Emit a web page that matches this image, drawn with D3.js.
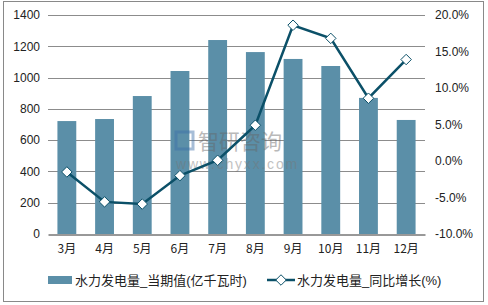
<!DOCTYPE html>
<html>
<head>
<meta charset="utf-8">
<script src="https://cdn.jsdelivr.net/npm/d3@7"></script>
<style>
  body { margin: 0; background: #fff; }
  svg text { font-family: "Liberation Sans", Arial, "Noto Sans CJK SC", sans-serif; }
</style>
</head>
<body>
<div id="chart"></div>
<script>
var months = ["3月", "4月", "5月", "6月", "7月", "8月", "9月", "10月", "11月", "12月"];
var output = [722, 735, 882, 1042, 1240, 1163, 1119, 1074, 870, 729];
var growth = [-1.5, -5.6, -5.9, -2.0, 0.1, 4.9, 18.6, 16.8, 8.6, 13.9];
var leftTicks = [0, 200, 400, 600, 800, 1000, 1200, 1400];
var rightTicks = [-10, -5, 0, 5, 10, 15, 20];
var barName = "水力发电量_当期值(亿千瓦时)";
var lineName = "水力发电量_同比增长(%)";

var width = 488, height = 305;
var margin = { left: 48, right: 63, top: 15, bottom: 71 };
var barColor = "#5b8fa8", lineColor = "#0b5068";

var svg = d3.select("#chart").append("svg")
  .attr("width", width)
  .attr("height", height);

// outer frame
svg.append("rect")
  .attr("x", 3.5).attr("y", 1.5)
  .attr("width", 480).attr("height", 300)
  .attr("fill", "none").attr("stroke", "#898989");

var x = d3.scaleBand()
  .domain(months)
  .range([margin.left, width - margin.right])
  .paddingInner(0.5).paddingOuter(0.25);

var y = d3.scaleLinear().domain([0, 1400]).range([height - margin.bottom, margin.top]);
var y2 = d3.scaleLinear().domain([-10, 20]).range([height - margin.bottom, margin.top]);

// grid
svg.append("g").selectAll("line")
  .data(leftTicks.slice(1))
  .enter().append("line")
  .attr("x1", margin.left).attr("x2", width - margin.right)
  .attr("y1", function (d) { return Math.round(y(d)) + 0.5; })
  .attr("y2", function (d) { return Math.round(y(d)) + 0.5; })
  .attr("stroke", "#8c8c8c");

// left axis
var yAxis = svg.append("g")
  .attr("transform", "translate(" + margin.left + ",0)")
  .call(d3.axisLeft(y).tickValues(leftTicks).tickSize(0).tickPadding(8).tickFormat(d3.format("d")));
yAxis.select(".domain").remove();
yAxis.selectAll("text").attr("font-size", 12).attr("fill", "#222");

// right axis
var yAxis2 = svg.append("g")
  .attr("transform", "translate(" + (width - margin.right) + ",0)")
  .call(d3.axisRight(y2).tickValues(rightTicks).tickSize(0).tickPadding(10)
    .tickFormat(function (d) { return d.toFixed(1) + "%"; }));
yAxis2.select(".domain").remove();
yAxis2.selectAll("text").attr("font-size", 12).attr("fill", "#222");

// bars
svg.append("g").selectAll("rect")
  .data(output)
  .enter().append("rect")
  .attr("x", function (d, i) { return x(months[i]); })
  .attr("y", function (d) { return y(d); })
  .attr("width", x.bandwidth())
  .attr("height", function (d) { return y(0) - y(d); })
  .attr("fill", barColor);

// bottom axis
var xAxis = svg.append("g")
  .attr("transform", "translate(0," + (Math.round(y(0)) + 0.5) + ")")
  .call(d3.axisBottom(x).tickSize(0).tickPadding(10));
xAxis.select(".domain").attr("stroke", "#333");
xAxis.selectAll("text").attr("font-size", 12).attr("fill", "#222")
  .style("font-family", "\"Noto Sans CJK SC\", sans-serif");

// watermark
var wm = svg.append("g").attr("opacity", 0.45);
wm.append("rect").attr("x", 176).attr("y", 132).attr("width", 17).attr("height", 17)
  .attr("fill", "none").attr("stroke", "#3c6ea8").attr("stroke-width", 3);
wm.append("text").attr("x", 198).attr("y", 149).text("智研咨询")
  .attr("font-size", 21).attr("fill", "#666")
  .style("font-family", "\"Noto Sans CJK SC\", sans-serif");
wm.append("text").attr("x", 176).attr("y", 169).text("www.chyxx.com")
  .attr("font-size", 14).attr("fill", "#777").attr("letter-spacing", 1.8);

// line
var cx = function (d, i) { return x(months[i]) + x.bandwidth() / 2; };
var line = d3.line()
  .x(cx)
  .y(function (d) { return y2(d); });
svg.append("path")
  .datum(growth)
  .attr("d", line)
  .attr("fill", "none")
  .attr("stroke", lineColor)
  .attr("stroke-width", 2.5);

var diamond = d3.symbol().type(d3.symbolDiamond2).size(70);
svg.append("g").selectAll("path")
  .data(growth)
  .enter().append("path")
  .attr("d", diamond)
  .attr("transform", function (d, i) { return "translate(" + cx(d, i) + "," + y2(d) + ")"; })
  .attr("fill", "#fff")
  .attr("stroke", lineColor)
  .attr("stroke-width", 1);

// legend
var lg = svg.append("g").style("font-family", "\"Noto Sans CJK SC\", sans-serif");
lg.append("rect").attr("x", 48).attr("y", 276).attr("width", 24).attr("height", 8).attr("fill", barColor);
lg.append("text").attr("x", 75).attr("y", 280).attr("dy", "0.35em")
  .attr("font-size", 13).attr("fill", "#222").text(barName);
lg.append("line").attr("x1", 267).attr("x2", 295).attr("y1", 280).attr("y2", 280)
  .attr("stroke", lineColor).attr("stroke-width", 2.5);
lg.append("path").attr("d", diamond)
  .attr("transform", "translate(281,280)")
  .attr("fill", "#fff").attr("stroke", lineColor);
lg.append("text").attr("x", 297).attr("y", 280).attr("dy", "0.35em")
  .attr("font-size", 13).attr("fill", "#222").text(lineName);
</script>
</body>
</html>
